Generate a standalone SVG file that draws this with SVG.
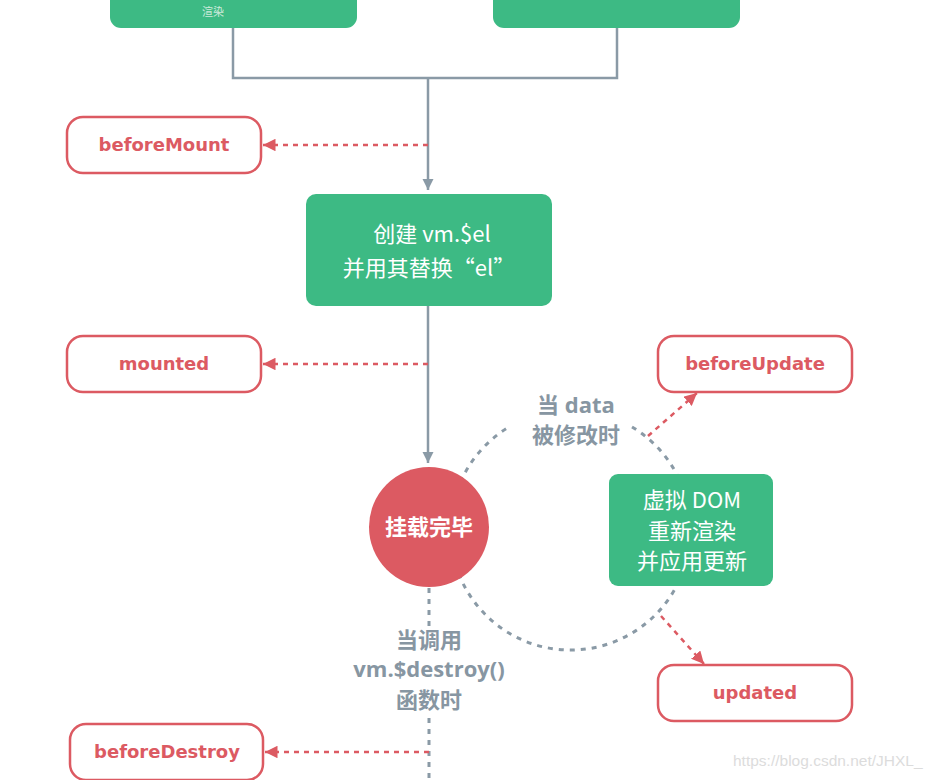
<svg xmlns="http://www.w3.org/2000/svg" width="936" height="780" viewBox="0 0 936 780">
<style>
.green{fill:#3dba84;}
.hook rect{fill:#fff;stroke:#dc5a62;stroke-width:2.5;}
.hook text{fill:#dc5a62;font-family:"DejaVu Sans","Noto Sans CJK SC",sans-serif;font-weight:700;font-size:18px;text-anchor:middle;}
.wt{fill:#fff;font-family:"Noto Sans CJK SC",sans-serif;font-size:22px;text-anchor:middle;}
.gt{fill:#8796a2;font-family:"Open Sans","Noto Sans CJK SC",sans-serif;font-weight:700;font-size:22px;text-anchor:middle;}
.solid{stroke:#8a9aa6;stroke-width:2.5;fill:none;}
.gdash{stroke:#8a9aa6;stroke-width:3;fill:none;stroke-dasharray:5 6;}
.rdash{stroke:#dc5a62;stroke-width:2.5;fill:none;stroke-dasharray:5 5;}
</style>
<defs>
<marker id="ag" viewBox="0 0 10 10" refX="10" refY="5" markerWidth="4.5" markerHeight="4.5" orient="auto" markerUnits="strokeWidth"><path d="M0,0 L10,5 L0,10 z" fill="#8a9aa6"/></marker>
<marker id="ar" viewBox="0 0 10 10" refX="10" refY="5" markerWidth="5" markerHeight="5" orient="auto" markerUnits="strokeWidth"><path d="M0,0 L10,5 L0,10 z" fill="#dc5a62"/></marker>
</defs>
<rect width="936" height="780" fill="#fff"/>

<g id="connectors">
<path class="solid" d="M233,28 V78 H617 V28"/>
<path class="solid" d="M428,78 V190" marker-end="url(#ag)"/>
<path class="solid" d="M428,306 V463" marker-end="url(#ag)"/>
<path class="rdash" d="M428,145 H263" marker-end="url(#ar)"/>
<path class="rdash" d="M428,364 H263" marker-end="url(#ar)"/>
<path class="gdash" d="M632,427 A120,120 0 1 1 509,427"/>
<path class="rdash" d="M648,436 L697,393" marker-end="url(#ar)"/>
<path class="rdash" d="M661,616 L704,664" marker-end="url(#ar)"/>
<path class="gdash" d="M429,588 V628"/>
<path class="gdash" d="M429,718 V780"/>
<path class="rdash" d="M429,752 H265" marker-end="url(#ar)"/>
</g>

<g id="top-left">
<rect class="green" x="110" y="-20" width="247" height="48" rx="11"/>
<text x="213" y="16" font-family="Noto Sans CJK SC,sans-serif" font-size="11" fill="#cdeadb" text-anchor="middle">渲染</text>
</g>
<g id="top-right">
<rect class="green" x="493" y="-20" width="247" height="48" rx="11"/>
</g>

<g id="beforeMount" class="hook">
<rect x="67" y="117" width="194" height="56" rx="16"/>
<text x="164" y="151">beforeMount</text>
</g>

<g id="create-el">
<rect class="green" x="306" y="194" width="246" height="112" rx="10"/>
<text class="wt" x="432" y="242">创建 vm.$el</text>
<text class="wt" x="429" y="276">并用其替换“el”</text>
</g>

<g id="mounted" class="hook">
<rect x="67" y="336" width="194" height="56" rx="16"/>
<text x="164" y="370">mounted</text>
</g>

<g id="beforeUpdate" class="hook">
<rect x="658" y="336" width="194" height="56" rx="16"/>
<text x="755" y="370">beforeUpdate</text>
</g>

<g id="data-label">
<text class="gt" x="576" y="413">当 data</text>
<text class="gt" x="576" y="443">被修改时</text>
</g>

<g id="mounted-circle">
<circle cx="429" cy="527" r="60" fill="#dc5a62"/>
<text x="429" y="535" fill="#fff" font-family="Noto Sans CJK SC,sans-serif" font-weight="700" font-size="22" text-anchor="middle">挂载完毕</text>
</g>

<g id="vdom">
<rect class="green" x="609" y="474" width="164" height="112" rx="9"/>
<text class="wt" x="692" y="508">虚拟 DOM</text>
<text class="wt" x="692" y="539">重新渲染</text>
<text class="wt" x="692" y="569">并应用更新</text>
</g>

<g id="updated" class="hook">
<rect x="658" y="665" width="194" height="56" rx="16"/>
<text x="755" y="699">updated</text>
</g>

<g id="destroy-label">
<text class="gt" x="429" y="648">当调用</text>
<text class="gt" x="429" y="677" font-family="DejaVu Sans,sans-serif" font-size="19">vm.$destroy()</text>
<text class="gt" x="429" y="708">函数时</text>
</g>

<g id="beforeDestroy" class="hook">
<rect x="70" y="724" width="193" height="56" rx="16"/>
<text x="167" y="758">beforeDestroy</text>
</g>

<text x="733" y="766" font-family="Liberation Sans,Arial,sans-serif" font-size="15.5" fill="#dcdcdc">https://blog.csdn.net/JHXL_</text>
</svg>
